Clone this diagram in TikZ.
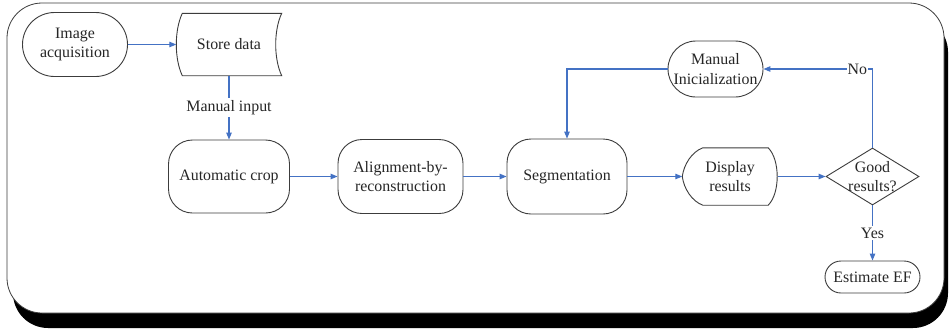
\documentclass[tikz,border=0pt]{standalone}
\usepackage{fontspec}
\setmainfont{Liberation Serif}
\usetikzlibrary{arrows.meta,shapes.geometric,calc}
\definecolor{lineblue}{RGB}{68,114,196}
\definecolor{edgegray}{RGB}{60,60,60}
\begin{document}
\begin{tikzpicture}[x=1pt,y=-1pt,
  font=\fontsize{15.9}{19.5}\selectfont,
  every node/.style={text=black!85, align=center, inner sep=0pt},
  shapeline/.style={draw=edgegray, line width=0.9pt},
  termbox/.style={shapeline, rectangle, fill=white},
  procbox/.style={shapeline, rectangle, rounded corners=24pt, fill=white},
  link/.style={draw=lineblue, line width=1.1pt, -{Triangle[length=7pt,width=5.5pt]}},
  lbl/.style={fill=white, inner sep=2pt}]
\useasboundingbox (0,0) rectangle (949,333);
% frame with shadow
\fill[black, rounded corners=35pt] (13,17) rectangle (948,328);
\draw[edgegray, line width=0.8pt, fill=white, rounded corners=35pt] (7,3) rectangle (944,313);

% nodes
\node[termbox, rounded corners=32pt, minimum width=105pt, minimum height=64pt] (acq) at (75,44.5) {Image\\acquisition};
\node[minimum width=105pt, minimum height=62pt] (store) at (229,44.5) {Store data};
\draw[shapeline] ($(store.north west)+(6,0)$) -- ($(store.north east)+(0,0)$)
  .. controls +(-8,17) and +(-8,-17) .. ($(store.south east)+(0,0)$)
  -- ($(store.south west)+(6,0)$)
  .. controls +(-8,-17) and +(-8,17) .. ($(store.north west)+(6,0)$) -- cycle;

\node[procbox, minimum width=121pt, minimum height=73pt] (crop) at (229,176.5) {Automatic crop};
\node[procbox, minimum width=125pt, minimum height=74pt] (align) at (400.5,176.5) {Alignment-by-\\reconstruction};
\node[procbox, minimum width=120pt, minimum height=75pt] (seg) at (567,176.5) {Segmentation};

\node[minimum width=95pt, minimum height=57pt] (disp) at (730,176.5) {Display\\results};
\draw[shapeline] ($(disp.north west)+(20.5,0)$) -- ($(disp.north east)+(-9.5,0)$)
  .. controls +(12,12) and +(12,-12) .. ($(disp.south east)+(-9.5,0)$)
  -- ($(disp.south west)+(20.5,0)$)
  .. controls +(-11,-4) and +(1.5,12) .. (disp.west)
  .. controls +(1.5,-12) and +(-11,4) .. ($(disp.north west)+(20.5,0)$) -- cycle;

\node[termbox, rounded corners=28pt, minimum width=95pt, minimum height=56pt] (manual) at (715.5,69) {Manual\\Inicialization};
\node[shapeline, diamond, fill=white, minimum width=93pt, minimum height=57pt,
  label={center:{Good\\results?}}] (good) at (872.5,176.5) {};
\node[termbox, rounded corners=16pt, minimum width=95pt, minimum height=32pt] (est) at (872.5,277) {Estimate EF};

% connectors
\draw[link] (acq.east) -- (store.west);
\draw[link] (store.south) -- node[lbl]{Manual input} (crop.north);
\draw[link] (crop) -- (align);
\draw[link] (align) -- (seg);
\draw[link] (seg) -- (disp.west);
\draw[link] (disp.east) -- (good.west);
\draw[link] (good.north) |- node[pos=0.57, lbl, inner sep=1pt]{No} (manual.east);
\draw[link] (manual.west) -| (seg.north);
\draw[link] (good.south) -- node[lbl]{Yes} (est.north);
\end{tikzpicture}
\end{document}
